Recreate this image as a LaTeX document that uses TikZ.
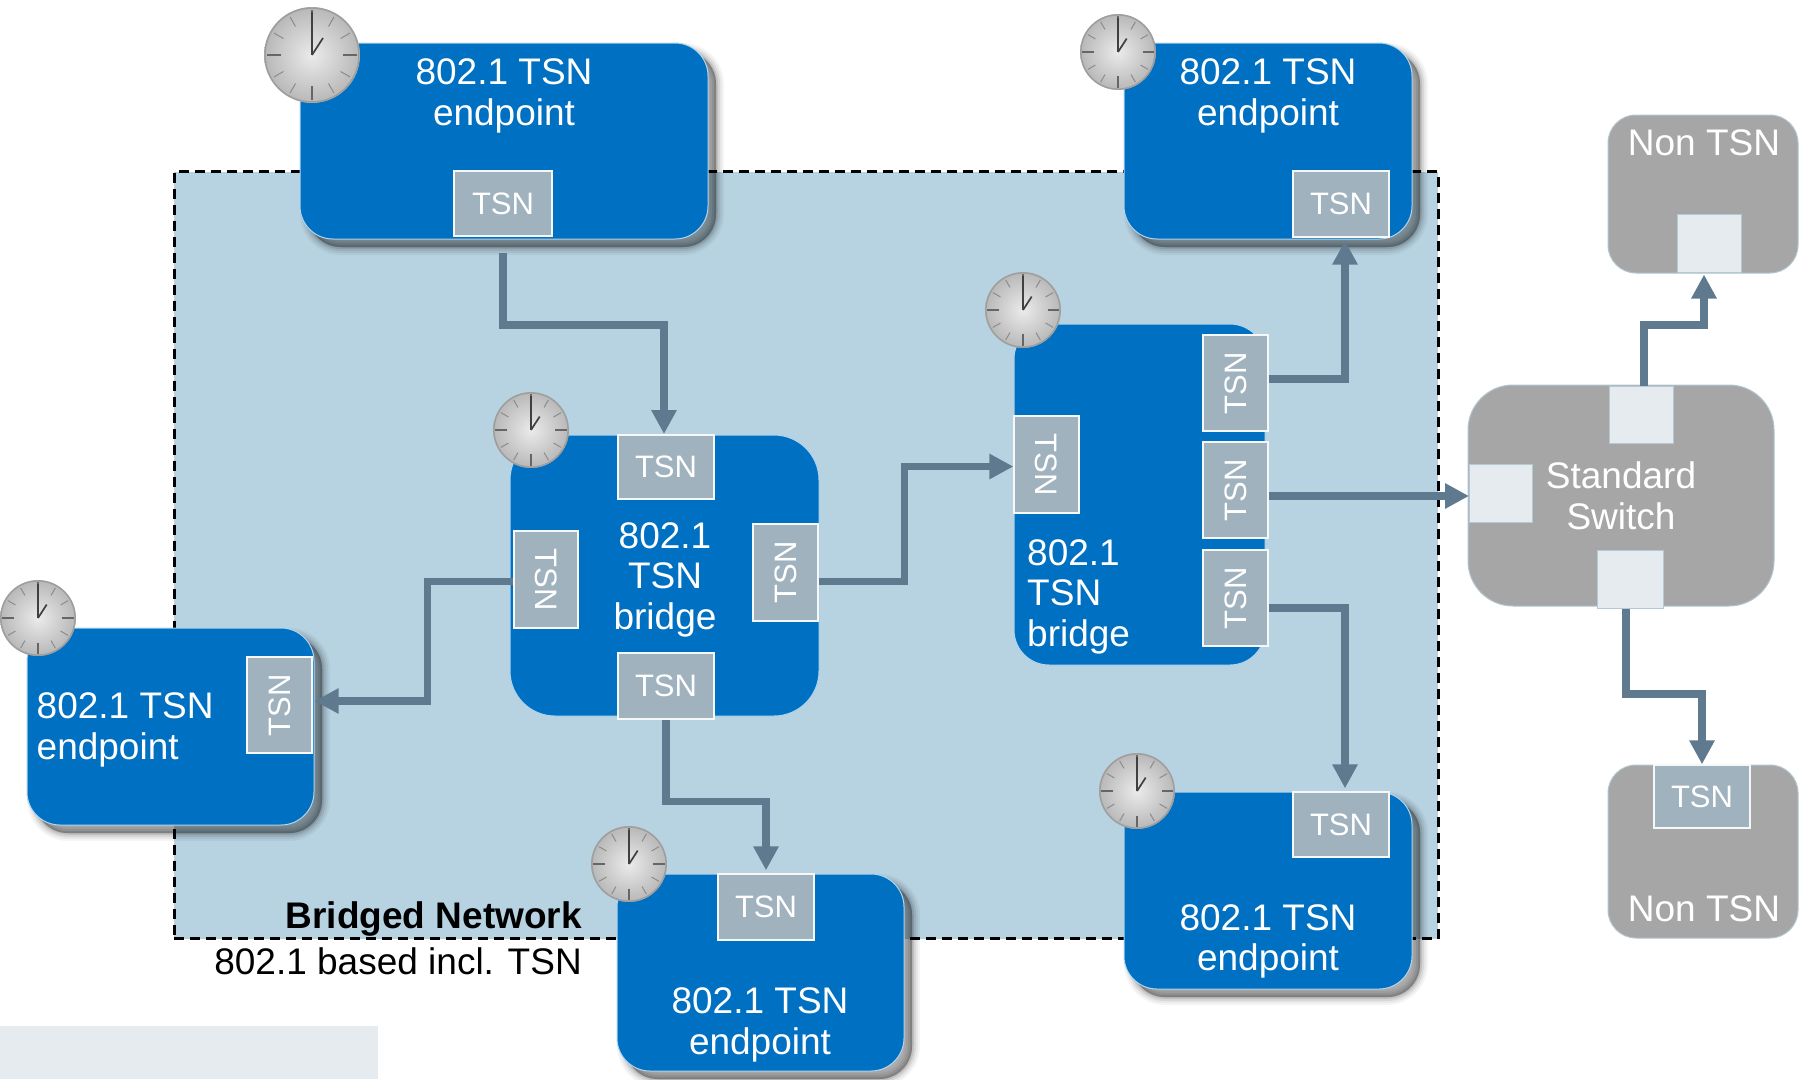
\documentclass[tikz,border=0pt]{standalone}
\usepackage{graphicx}
\usepackage{fontspec}
\setmainfont{Liberation Sans}
\usetikzlibrary{arrows.meta,shadows}
\definecolor{tsnblue}{RGB}{0,112,194}
\definecolor{tsnport}{RGB}{160,178,190}
\definecolor{netblue}{RGB}{183,210,224}
\definecolor{linkblue}{RGB}{95,122,143}
\definecolor{stdgray}{RGB}{166,166,166}
\definecolor{stdport}{RGB}{229,235,239}
\tikzset{
  softshadow/.style={
    general shadow={shadow xshift=8pt,shadow yshift=-8pt,fill=black,draw=black,line width=16pt,opacity=.04},
    general shadow={shadow xshift=8pt,shadow yshift=-8pt,fill=black,draw=black,line width=12pt,opacity=.05},
    general shadow={shadow xshift=8pt,shadow yshift=-8pt,fill=black,draw=black,line width=8pt,opacity=.08},
    general shadow={shadow xshift=8pt,shadow yshift=-8pt,fill=black,draw=black,line width=4pt,opacity=.1},
    general shadow={shadow xshift=8pt,shadow yshift=-8pt,fill=black,draw=black,line width=.5pt,opacity=.1}},
  tsnbox/.style={rectangle, rounded corners=#1, draw=white!70!tsnblue, line width=1pt, fill=tsnblue, inner sep=0pt},
  tsnbox/.default=33pt,
  stdbox/.style={rectangle, rounded corners=#1, draw=netblue!70!stdgray, line width=1pt, fill=stdgray, inner sep=0pt},
  tsnport/.style={rectangle, draw=white!90!tsnport, line width=1.3pt, fill=tsnport, text=white, inner sep=0pt, font=\fontsize{31}{31}\selectfont},
  stdport/.style={rectangle, draw=netblue!80!stdgray, line width=1pt, fill=stdport, inner sep=0pt},
  boxtext/.style={text=white, align=center, inner sep=0pt, font=\fontsize{37}{40.5}\selectfont},
  link/.style={draw=linkblue, line width=7.5pt, -{Triangle[length=24pt,width=24pt]}},
  clock/.pic={
    \shade[inner color=white!92!black, outer color=black!28] (0,0) circle (48);
    \draw[line width=1.5pt, black!38] (0,0) circle (47);
    \foreach \a in {0,90,180,270} \draw[line width=1.2pt, black!60] (\a:31) -- (\a:45);
    \foreach \a in {30,60,120,150,210,240,300,330} \draw[line width=1pt, black!45] (\a:33) -- (\a:44);
    \draw[line width=1.3pt, black!75] (0,0) -- (0,-43);
    \draw[line width=1.7pt, black!75] (0,0) -- (11,-17);
  }
}
\begin{document}
\begin{tikzpicture}[x=1pt, y=-1pt]
  \useasboundingbox (0,0) rectangle (1803,1079);
  \node[rectangle, fill=stdport, minimum width=378pt, minimum height=53pt, inner sep=0pt] (strip) at (189,1052.5) {};

  \node[rectangle, draw=black, fill=netblue, line width=3pt, dash pattern=on 10pt off 6pt, minimum width=1264pt, minimum height=767pt, inner sep=0pt] (network) at (806,555) {};
  \node[anchor=east, inner sep=0pt, font=\fontsize{37}{37}\selectfont\bfseries] (networkname) at (582,919) {Bridged Network};
  \node[anchor=east, inner sep=0pt, font=\fontsize{37}{37}\selectfont] (networksub) at (582,961) {802.1 based incl. TSN};

  % endpoints
  \node[tsnbox, softshadow, minimum width=408pt, minimum height=196pt] (eptl) at (504,141) {};
  \node[tsnport, minimum width=98pt, minimum height=65pt] (eptlport) at (503,203.5) {TSN};
  \node[boxtext] (eptltext) at (504,96) {802.1 TSN\\endpoint};

  \node[tsnbox, softshadow, minimum width=288pt, minimum height=196pt] (eptr) at (1268,141) {};
  \node[tsnport, minimum width=96pt, minimum height=66pt] (eptrport) at (1341,204) {TSN};
  \node[boxtext] (eptrtext) at (1268,96) {802.1 TSN\\endpoint};

  \node[tsnbox, softshadow, minimum width=287pt, minimum height=197pt] (epleft) at (170.5,726.5) {};
  \node[tsnport, minimum width=65pt, minimum height=96pt] (epleftport) at (279.5,705) {\rotatebox{90}{TSN}};
  \node[boxtext, anchor=west, align=left] (eplefttext) at (36.5,730) {802.1 TSN\\endpoint};

  \node[tsnbox, softshadow, minimum width=287pt, minimum height=197pt] (epbot) at (760.5,972.5) {};
  \node[tsnport, minimum width=96pt, minimum height=66pt] (epbotport) at (766,907) {TSN};
  \node[boxtext] (epbottext) at (760,1025) {802.1 TSN\\endpoint};

  \node[tsnbox, softshadow, minimum width=288pt, minimum height=197pt] (epbr) at (1268,890.5) {};
  \node[tsnport, minimum width=96pt, minimum height=65pt] (epbrport) at (1341,824.5) {TSN};
  \node[boxtext] (epbrtext) at (1268,941.5) {802.1 TSN\\endpoint};

  % bridges
  \node[tsnbox=45pt, minimum width=309pt, minimum height=281pt] (bridgea) at (664.5,575.5) {};
  \node[tsnport, minimum width=96pt, minimum height=64pt] (bridgeatop) at (666,467) {TSN};
  \node[tsnport, minimum width=96pt, minimum height=66pt] (bridgeabot) at (666,686) {TSN};
  \node[tsnport, minimum width=64pt, minimum height=97pt] (bridgealeft) at (546,579.5) {\rotatebox{-90}{TSN}};
  \node[tsnport, minimum width=65pt, minimum height=97pt] (bridgearight) at (785.5,572.5) {\rotatebox{90}{TSN}};
  \node[boxtext] (bridgeatext) at (665,579.5) {802.1\\TSN\\bridge};

  \node[tsnbox=35pt, minimum width=251pt, minimum height=341pt] (bridgeb) at (1139.5,494.5) {};
  \node[tsnport, minimum width=65pt, minimum height=97pt] (bridgebleft) at (1046.5,464.5) {\rotatebox{-90}{TSN}};
  \node[tsnport, minimum width=65pt, minimum height=96pt] (bridgebup) at (1235.5,383) {\rotatebox{90}{TSN}};
  \node[tsnport, minimum width=65pt, minimum height=96pt] (bridgebmid) at (1235.5,490) {\rotatebox{90}{TSN}};
  \node[tsnport, minimum width=65pt, minimum height=96pt] (bridgeblow) at (1235.5,598) {\rotatebox{90}{TSN}};
  \node[boxtext, anchor=west, align=left] (bridgebtext) at (1027,596.5) {802.1\\TSN\\bridge};

  % outside the network
  \node[stdbox=45pt, minimum width=306pt, minimum height=221pt] (switch) at (1621,495.5) {};
  \node[stdport, minimum width=64pt, minimum height=57pt] (switchtop) at (1641,414.5) {};
  \node[stdport, minimum width=63pt, minimum height=58pt] (switchleft) at (1501,493) {};
  \node[stdport, minimum width=66pt, minimum height=58pt] (switchbot) at (1630,579) {};
  \node[boxtext] (switchtext) at (1621,496) {Standard\\Switch};

  \node[stdbox=28pt, minimum width=190pt, minimum height=158pt] (nontop) at (1703,194) {};
  \node[stdport, minimum width=64pt, minimum height=58pt] (nontopport) at (1709,243) {};
  \node[boxtext] (nontoptext) at (1704,143) {Non TSN};

  \node[stdbox=28pt, minimum width=190pt, minimum height=173pt] (nonbot) at (1703,851.5) {};
  \node[tsnport, minimum width=96pt, minimum height=63pt] (nonbotport) at (1702,796.5) {TSN};
  \node[boxtext] (nonbottext) at (1704,909) {Non TSN};

  % clocks
  \pic at (312,55) {clock};
  \pic[scale=.79] at (1118,52) {clock};
  \pic[scale=.79] at (531,430) {clock};
  \pic[scale=.79] at (38,618) {clock};
  \pic[scale=.79] at (629,864) {clock};
  \pic[scale=.79] at (1137,791) {clock};
  \pic[scale=.79] at (1023,310) {clock};

  % links
  \draw[link] ([yshift=-16pt]eptlport.south) |- (664,325) -- (664,434);
  \draw[link] ([yshift=-2pt]bridgealeft.west) -- ++(-86,0) |- ([yshift=4pt,xshift=2pt]epleftport.east);
  \draw[link] ([yshift=-9pt]bridgearight.east) -- ++(86,0) |- ([yshift=-2pt]bridgebleft.west);
  \draw[link] (bridgeabot.south) -- ++(0,82) -| ([yshift=3pt]epbotport.north);
  \draw[link] ([yshift=4pt]bridgebup.east) -| ([xshift=4pt,yshift=-3pt]eptrport.south);
  \draw[link] ([yshift=-3pt]bridgebmid.east |- switchleft.west) -- ([yshift=-3pt]switchleft.west);
  \draw[link] ([yshift=-10pt]bridgeblow.east) -| ([xshift=4pt,yshift=3pt]epbrport.north);
  \draw[link] ([xshift=3pt]switchtop.north) |- (1704,325) -- ([xshift=-5pt,yshift=-2pt]nontopport.south);
  \draw[link] ([xshift=-4pt]switchbot.south) |- (1702,694) -- ([yshift=0pt]nonbotport.north);
\end{tikzpicture}
\end{document}
